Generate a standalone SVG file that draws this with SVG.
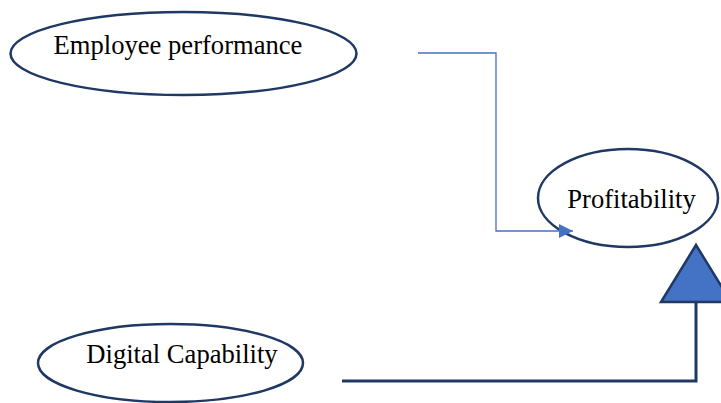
<svg xmlns="http://www.w3.org/2000/svg" width="721" height="403" viewBox="0 0 721 403">
<style>
.node ellipse{fill:#fff;stroke:#1F3864;stroke-width:2.5}
.node text{font-family:"Liberation Serif","Times New Roman",serif;font-size:26.6px;fill:#000}
.thin{fill:none;stroke:#4472C4;stroke-width:1.3}
.thick{fill:none;stroke:#1F3864;stroke-width:3}
</style>
<defs>
<marker id="ah" markerUnits="userSpaceOnUse" markerWidth="16" markerHeight="14" refX="14" refY="7" orient="auto">
<path d="M0,0 L14,7 L0,14 Z" fill="#4472C4"/>
</marker>
</defs>
<rect width="721" height="403" fill="#fff"/>
<g id="employee" class="node">
<ellipse cx="183.5" cy="53.5" rx="173" ry="41.5"/>
<text x="178" y="54" text-anchor="middle" font-family="Liberation Serif, serif">Employee performance</text>
</g>
<g id="profitability" class="node">
<ellipse cx="628" cy="198" rx="90" ry="49"/>
<text x="631.5" y="208" text-anchor="middle" font-family="Liberation Serif, serif">Profitability</text>
</g>
<g id="digital" class="node">
<ellipse cx="170.5" cy="363" rx="132.5" ry="39"/>
<text x="182" y="363" text-anchor="middle" font-family="Liberation Serif, serif">Digital Capability</text>
</g>
<g id="connectors">
<polyline class="thin" points="418,53 496,53 496,231 573,231" marker-end="url(#ah)"/>
<polyline class="thick" points="342,381 696,381 696,302"/>
<polygon points="696,245 661,302 731,302" fill="#4472C4" stroke="#1F3864" stroke-width="2.5" stroke-linejoin="miter"/>
</g>
</svg>
